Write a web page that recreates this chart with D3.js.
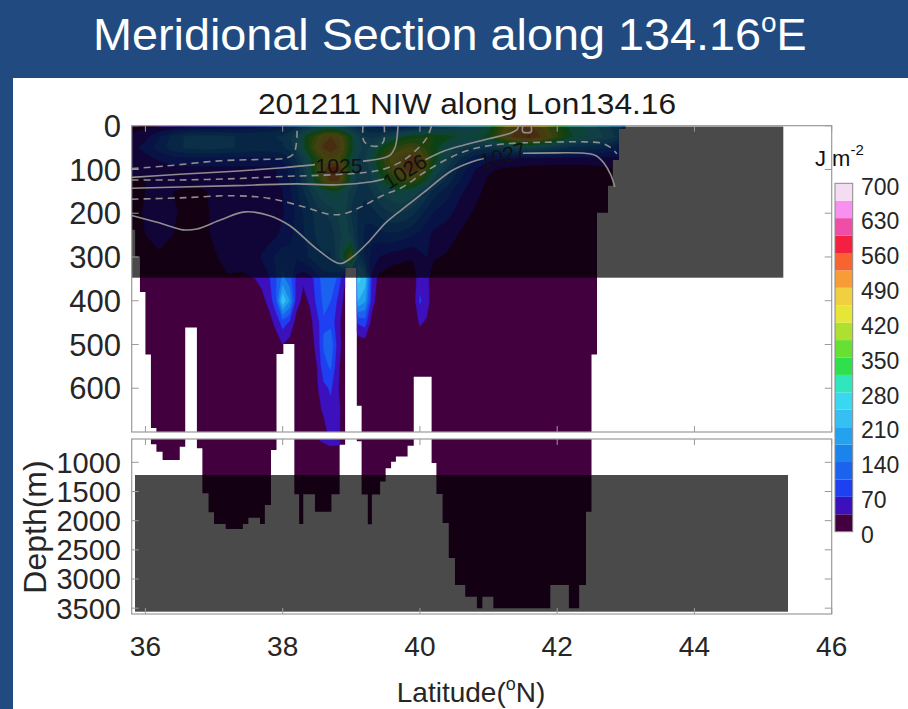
<!DOCTYPE html>
<html><head><meta charset="utf-8">
<script src="https://cdn.jsdelivr.net/npm/d3@7"></script>
<style>body{margin:0;background:#fff}svg{display:block}text{font-family:"Liberation Sans",Arial,sans-serif}</style>
</head><body><svg id="c" width="908" height="709"></svg>
<script>
// ---------- DATA ----------
const gridLat = [35.8,36.0,36.2,36.4,36.6,36.8,37.0,37.2,37.4,37.6,
  37.7,37.8,37.9,38.0,38.1,38.2,38.3,38.4,38.5,
  38.6,38.7,38.8,38.9,39.0,39.1,39.2,39.3,39.4,
  39.5,39.6,39.7,39.8,39.9,40.0,40.1,40.2,
  40.4,40.6,40.8,41.0,41.2,41.4,41.6,41.8,42.0,42.2,42.4,42.6,42.8,43.0];
const gridDepth = [0,25,50,75,100,125,150,200,250,300,350,400,450,500,550,600,650,700,750,3600];
// NIW energy (J m^-2), one row per depth level, one value per latitude node
const niw = [
[20,25,30,40,50,55,60,65,70,80, 90,100,110,120,140,160,180,200,220, 230,230,220,200,180,160,140,130,120, 110,110,110,120,130,140,160,180, 210,240,260,290,400,480,500,440,360,300,270,240,200,160],
[45,60,100,150,180,190,190,180,170,170, 170,170,175,180,200,240,300,360,410, 470,490,470,400,320,250,210,200,210, 240,270,300,320,330,340,350,350, 330,300,290,330,440,510,530,480,390,320,290,260,220,160],
[60,80,120,160,180,190,190,180,170,160, 160,160,165,170,190,230,300,380,440, 500,520,490,420,330,260,230,260,300, 350,380,400,420,420,400,370,330, 270,220,200,190,210,240,250,230,200,170,160,150,130,100],
[50,60,75,90,95,95,95,95,95,95, 95,95,100,110,140,180,240,300,370, 420,450,440,380,290,240,240,290,350, 400,440,470,500,510,490,420,340, 250,170,110,80,70,65,60,60,55,55,55,55,60,60],
[40,45,50,55,60,60,60,60,60,60, 60,60,70,85,110,150,210,290,390, 480,540,550,440,300,230,220,260,320, 380,420,460,500,510,480,400,300, 200,120,70,40,30,25,20,20,20,20,20,25,30,30],
[30,35,40,45,45,45,50,55,55,55, 55,55,65,80,105,140,190,260,350, 430,500,500,390,280,220,210,240,290, 330,360,390,410,400,360,300,230, 160,100,55,30,20,15,15,15,15,15,15,20,25,25],
[25,35,40,35,30,30,40,55,50,45, 45,50,60,70,95,130,170,210,250, 280,300,300,270,230,200,190,210,240, 260,280,290,290,270,240,200,160, 120,75,45,25,15,10,10,10,10,10,10,15,20,20],
[20,40,50,40,25,25,40,65,60,40, 40,45,55,65,85,110,140,165,190, 210,220,245,250,200,170,150,160,180, 200,210,210,200,180,150,120,100, 80,50,30,15,10,10,10,10,10,10,10,10,15,15],
[18,35,45,35,22,22,40,70,65,45, 45,55,65,80,95,115,135,155,180, 190,190,225,260,240,170,130,115,120, 130,130,125,115,105,95,80,60, 50,30,20,10,10,10,10,10,10,10,10,10,10,10],
[15,25,30,22,18,18,30,50,45,50, 75,90,110,125,115,110,125,145,165, 170,170,230,330,430,190,130,90,70, 60,50,45,40,40,60,70,40, 30,20,15,10,10,10,10,10,10,10,10,10,10,10],
[15,20,25,20,15,15,20,30,30,35, 45,65,100,150,120,60,40,55,85, 125,125,100,40,60,255,230,60,25, 15,10,10,10,15,55,45,10, 10,10,10,10,10,10,10,10,10,10,10,10,10,10],
[10,10,10,10,10,10,10,10,10,15, 25,45,95,240,175,50,25,40,80, 115,105,65,25,20,210,180,50,15, 10,10,10,10,15,75,50,10, 10,10,10,10,10,10,10,10,10,10,10,10,10,10],
[10,10,10,10,10,10,10,10,10,10, 10,20,45,85,65,20,15,25,55, 100,95,45,20,15,75,85,20,10, 10,10,10,10,12,40,30,10, 10,10,10,10,10,10,10,10,10,10,10,10,10,10],
[10,10,10,10,10,10,10,10,10,10, 10,10,15,35,20,10,12,20,45, 110,130,55,15,10,10,15,10,10, 10,10,10,10,10,10,10,10, 10,10,10,10,10,10,10,10,10,10,10,10,10,10],
[10,10,10,10,10,10,10,10,10,10, 10,10,10,10,10,10,10,15,35, 95,110,45,12,10,10,10,10,10, 10,10,10,10,10,10,10,10, 10,10,10,10,10,10,10,10,10,10,10,10,10,10],
[10,10,10,10,10,10,10,10,10,10, 10,10,10,10,10,10,10,15,30, 60,75,40,10,10,10,10,10,10, 10,10,10,10,10,10,10,10, 10,10,10,10,10,10,10,10,10,10,10,10,10,10],
[10,10,10,10,10,10,10,10,10,10, 10,10,10,10,10,10,10,12,25, 40,60,45,18,10,10,10,10,10, 10,10,10,10,10,10,10,10, 10,10,10,10,10,10,10,10,10,10,10,10,10,10],
[10,10,10,10,10,10,10,10,10,10, 10,10,10,10,10,10,10,10,20, 25,45,40,25,10,10,10,10,10, 10,10,10,10,10,10,10,10, 10,10,10,10,10,10,10,10,10,10,10,10,10,10],
[10,10,10,10,10,10,10,10,10,10, 10,10,10,10,10,10,10,10,12, 10,20,15,12,10,10,10,10,10, 10,10,10,10,10,10,10,10, 10,10,10,10,10,10,10,10,10,10,10,10,10,10],
[10,10,10,10,10,10,10,10,10,10, 10,10,10,10,10,10,10,10,10, 10,10,10,10,10,10,10,10,10, 10,10,10,10,10,10,10,10, 10,10,10,10,10,10,10,10,10,10,10,10,10,10]
];
// sea-floor (data extent): latitude edges and bottom depth (m) of each interval
const bottomEdges = [35.80,35.85,35.92,36.00,36.08,36.16,36.25,36.50,36.58,36.75,
  36.83,36.92,37.00,37.17,37.42,37.50,37.67,37.74,37.83,37.91,
  38.01,38.17,38.24,38.30,38.47,38.71,38.83,38.91,39.08,39.15,
  39.24,39.30,39.42,39.50,39.58,39.65,39.82,39.91,40.17,40.24,
  40.33,40.42,40.51,40.66,40.83,40.91,41.07,41.90,42.17,42.32,
  42.42,42.50,42.58,42.74,42.81,42.90,42.99];
const bottomDepth = [238,299,380,523,691,818,960,732,461,760,
  1531,1857,2057,2143,2057,1949,2057,1731,789,522,
  499,1548,2057,1548,1846,1548,700,325,640,1550,
  2060,1550,1330,1100,990,900,715,574,1011,1543,
  2040,2640,3103,3303,3502,3303,3502,3103,3502,3103,
  1846,523,199,137,78,7];
const levels = [0,35,70,105,140,175,210,245,280,315,350,385,420,455,490,525,560,595,630,665,700];
const levelColors = ["#42003f","#3c10bc","#1f40f2","#1b62ee","#1a84ec","#24a2f0","#36bff2","#3ad8f0",
  "#30e6bc","#2ee04c","#66e033","#aee030","#e6e636","#f0d040","#f89c38","#f86430","#f51f42",
  "#f04ea6","#f890ef","#f4dcf2"];
const cbTicks = [0,70,140,210,280,350,420,490,560,630,700];
const yTicksTop = [0,100,200,300,400,500,600];
const yTicksBot = [1000,1500,2000,2500,3000,3500];
const xTicks = [36,38,40,42,44,46];
// potential density contours (lat, depth)
const isoLines = [
 {dash:true,  pts:[[35.8,98],[36.3,92],[37.1,80],[37.7,77],[38.05,74],[38.16,64],[38.2,40],[38.21,0]]},
 {dash:true,  pts:[[39.17,0],[39.18,34],[39.26,45],[39.4,46],[39.47,36],[39.48,0]]},
 {dash:false, pts:[[35.8,118],[36.5,111],[37.3,104],[38.0,96],[38.47,89]]},
 {dash:false, pts:[[39.17,81],[39.4,76],[39.56,68],[39.64,48],[39.67,22],[39.68,0]]},
 {dash:true,  pts:[[35.8,124],[36.5,124],[37.3,121],[38.0,116],[38.6,113],[39.2,107],[39.5,98],[39.75,80],[39.95,55],[40.1,28],[40.17,0]]},
 {dash:false, pts:[[35.8,143],[36.5,140],[37.3,137],[38.2,133],[38.8,135],[39.3,128],[39.48,122]]},
 {dash:false, pts:[[40.08,78],[40.35,58],[40.7,42],[41.0,30],[41.3,18],[41.42,8],[41.43,0]]},
 {dash:false, pts:[[41.5,0],[41.5,14],[41.62,14],[41.62,0]]},
 {dash:true,  pts:[[35.8,168],[36.5,165],[37.3,160],[37.8,166],[38.3,185],[38.7,203],[38.9,201],[39.15,185],[39.45,160],[39.75,140],[40.05,108],[40.4,76],[40.75,54],[41.2,42],[41.8,38],[42.4,37],[42.65,40],[42.78,50],[42.87,64]]},
 {dash:false, pts:[[35.8,205],[36.2,222],[36.55,238],[36.75,236],[37.1,215],[37.45,197],[37.8,205],[38.1,228],[38.5,282],[38.83,315],[39.0,302],[39.25,266],[39.5,222],[39.75,190],[40.06,152],[40.45,104],[40.75,83],[40.93,75]]},
 {dash:false, pts:[[41.5,63],[42.0,62],[42.4,63],[42.56,68],[42.68,85],[42.78,112],[42.84,140]]}
];
const isoLabels = [
 {text:"1025", lat:38.82, depth:90, angle:0},
 {text:"1026", lat:39.78, depth:104, angle:-32},
 {text:"1027", lat:41.21, depth:68, angle:-17}
];

// ---------- LAYOUT ----------
const svg = d3.select("#c");
const x = d3.scaleLinear().domain([35.8, 46]).range([131.7, 831.7]);
const yTop = d3.scaleLinear().domain([0, 700]).range([125.7, 432]);
const yBot = d3.scaleLinear().domain([600, 3600]).range([439, 614]);
const cb = d3.scaleLinear().domain([0, 700]).range([531.7, 183.3]);
const tickCol = "#9a9a9a", txtCol = "#262626";

svg.append("rect").attr("width",908).attr("height",709).attr("fill","#214b80");
svg.append("rect").attr("x",13).attr("y",78).attr("width",895).attr("height",631).attr("fill","#ffffff");

const defs = svg.append("defs");
function waterPts(lo, hi){
  const p = [[bottomEdges[0], lo]];
  bottomDepth.forEach((d,i)=>{
    const dd = Math.max(lo, Math.min(hi, d));
    p.push([bottomEdges[i], dd]); p.push([bottomEdges[i+1], dd]);
  });
  p.push([bottomEdges[bottomEdges.length-1], lo]);
  return p;
}
defs.append("clipPath").attr("id","wTop").append("path")
  .attr("d", d3.line().x(d=>x(d[0])).y(d=>yTop(d[1]))(waterPts(0,700))+"Z");
defs.append("clipPath").attr("id","wBot").append("path")
  .attr("d", d3.line().x(d=>x(d[0])).y(d=>yBot(d[1]))(waterPts(600,3600))+"Z");
defs.append("clipPath").attr("id","axTop").append("rect")
  .attr("x",131.7).attr("y",125.7).attr("width",700).attr("height",306.3);

// contour fills
const n = gridLat.length, m = gridDepth.length;
const contours = d3.contours().size([n, m]).thresholds(levels)(niw.flat());
const latIdx = d3.scaleLinear().domain(d3.range(n)).range(gridLat).clamp(true);
const depIdx = d3.scaleLinear().domain(d3.range(m)).range(gridDepth).clamp(true);
function gridPath(yS){
  return d3.geoPath(d3.geoTransform({point(px,py){
    this.stream.point(x(latIdx(px-0.5)), yS(depIdx(py-0.5)));
  }}));
}
[["wTop", yTop],["wBot", yBot]].forEach(([clip, yS])=>{
  const g = svg.append("g").attr("clip-path","url(#"+clip+")");
  const gp = gridPath(yS);
  contours.forEach((c,i)=>{
    if (i >= levelColors.length) return;
    g.append("path").attr("d", gp(c)).attr("fill", levelColors[i])
      .attr("stroke", levelColors[i]).attr("stroke-width",0.4);
  });
});

// semi-transparent dark overlays (slide annotation)
svg.append("rect").attr("x",131.7).attr("y",126.5).attr("width",651.6).attr("height",151.2)
  .attr("fill","#000").attr("fill-opacity",0.71);
svg.append("rect").attr("x",135).attr("y",475).attr("width",653).attr("height",136.7)
  .attr("fill","#000").attr("fill-opacity",0.71);

// isopycnals
const gl = svg.append("g").attr("clip-path","url(#axTop)");
const lineGen = d3.line().x(d=>x(d[0])).y(d=>yTop(d[1])).curve(d3.curveCatmullRom.alpha(0.5));
isoLines.forEach(l=>{
  gl.append("path").attr("d", lineGen(l.pts)).attr("fill","none")
    .attr("stroke","#8e8e8e").attr("stroke-width",1.6)
    .attr("stroke-dasharray", l.dash ? "7,5" : null);
});
isoLabels.forEach(l=>{
  gl.append("text").attr("transform",`translate(${x(l.lat)},${yTop(l.depth)}) rotate(${l.angle})`)
    .attr("text-anchor","middle").attr("dy","0.36em").attr("font-size",21).attr("fill","#111")
    .text(l.text);
});

// axes boxes
function box(y0, y1){
  svg.append("rect").attr("x",131.7).attr("y",y0).attr("width",700).attr("height",y1-y0)
    .attr("fill","none").attr("stroke",tickCol).attr("stroke-width",1.2);
}
box(125.7, 432); box(439, 614);
function yTicks(ticks, yS, fs){
  ticks.forEach(t=>{
    const yy = yS(t);
    svg.append("line").attr("x1",131.7).attr("x2",138.7).attr("y1",yy).attr("y2",yy).attr("stroke",tickCol);
    svg.append("line").attr("x1",831.7).attr("x2",824.7).attr("y1",yy).attr("y2",yy).attr("stroke",tickCol);
    svg.append("text").attr("x",121).attr("y",yy).attr("dy","0.36em").attr("text-anchor","end")
      .attr("font-size",fs).attr("fill",txtCol).text(t);
  });
}
yTicks(yTicksTop, yTop, 31);
yTicks(yTicksBot, yBot, 29);
function xTickMarks(y0, y1){
  xTicks.forEach(t=>{
    const xx = x(t);
    svg.append("line").attr("x1",xx).attr("x2",xx).attr("y1",y0).attr("y2",y0+6).attr("stroke",tickCol);
    svg.append("line").attr("x1",xx).attr("x2",xx).attr("y1",y1).attr("y2",y1-6).attr("stroke",tickCol);
  });
}
xTickMarks(125.7, 432); xTickMarks(439, 614);
xTicks.forEach(t=>{
  svg.append("text").attr("x",x(t)).attr("y",656).attr("text-anchor","middle")
    .attr("font-size",28).attr("fill",txtCol).text(t);
});

// axis titles
const xl = svg.append("text").attr("x",471).attr("y",702).attr("text-anchor","middle")
  .attr("font-size",28).attr("fill",txtCol);
xl.append("tspan").text("Latitude(");
xl.append("tspan").attr("font-size",18).attr("dy",-12).text("o");
xl.append("tspan").attr("font-size",28).attr("dy",12).text("N)");
svg.append("text").attr("transform","translate(46,527) rotate(-90)").attr("text-anchor","middle")
  .attr("font-size",32).attr("fill",txtCol).text("Depth(m)");

// chart title
svg.append("text").attr("x",467).attr("y",114).attr("text-anchor","middle")
  .attr("font-size",29).attr("textLength",418).attr("lengthAdjust","spacingAndGlyphs")
  .attr("fill","#1a1a1a").text("201211 NIW along Lon134.16");

// colorbar
const cbg = svg.append("g");
levelColors.forEach((c,i)=>{
  cbg.append("rect").attr("x",835).attr("width",17.7)
    .attr("y",cb(levels[i+1])).attr("height",cb(levels[i])-cb(levels[i+1])).attr("fill",c);
});
cbg.append("rect").attr("x",835).attr("y",cb(700)).attr("width",17.7).attr("height",cb(0)-cb(700))
  .attr("fill","none").attr("stroke","#8a8a8a").attr("stroke-width",1);
cbTicks.forEach(t=>{
  cbg.append("text").attr("x",861).attr("y",cb(t)+3).attr("dy","0.36em")
    .attr("font-size",23).attr("fill",txtCol).text(t);
});
const ul = svg.append("text").attr("x",815).attr("y",166).attr("font-size",22).attr("fill","#111");
ul.append("tspan").text("J m");
ul.append("tspan").attr("font-size",15).attr("dy",-11).text("-2");

// slide title
const st = svg.append("text").attr("x",93).attr("y",50)
  .attr("fill","#ffffff").attr("font-size",45);
st.append("tspan").attr("textLength",668).attr("lengthAdjust","spacingAndGlyphs").text("Meridional Section along 134.16");
st.append("tspan").attr("font-size",28).attr("dy",-18).text("o");
st.append("tspan").attr("font-size",45).attr("dy",18).text("E");
</script></body></html>
